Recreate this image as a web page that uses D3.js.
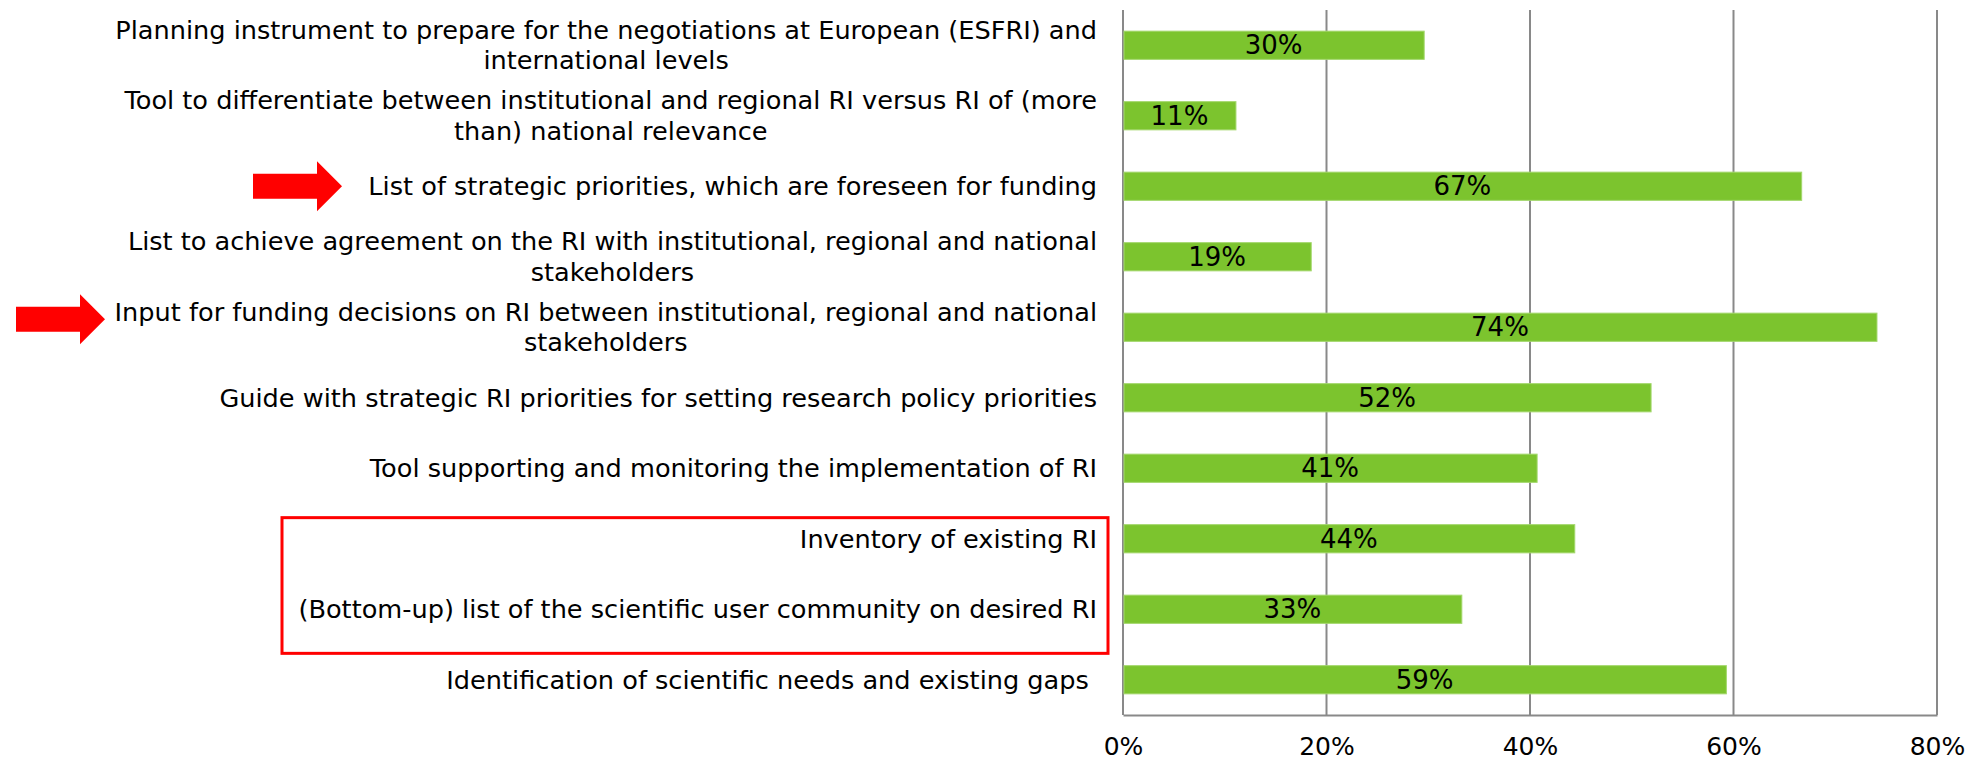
<!DOCTYPE html>
<html>
<head>
<meta charset="utf-8">
<script src="https://cdn.jsdelivr.net/npm/d3@7"></script>
<style>
  body { margin: 0; background: #fff; }
  svg { font-family: "DejaVu Sans", Verdana, sans-serif; }
</style>
</head>
<body>
<div id="chart"></div>
<script>
// categories, top to bottom (wrapped the way the original shows them)
const labelLines = [
  ["Planning instrument to prepare for the negotiations at European (ESFRI) and", "international levels"],
  ["Tool to differentiate between institutional and regional RI versus RI of (more", "than) national relevance"],
  ["List of strategic priorities, which are foreseen for funding"],
  ["List to achieve agreement on the RI with institutional, regional and national", "stakeholders"],
  ["Input for funding decisions on RI between institutional, regional and national", "stakeholders"],
  ["Guide with strategic RI priorities for setting research policy priorities"],
  ["Tool supporting and monitoring the implementation of RI"],
  ["Inventory of existing RI"],
  ["(Bottom-up) list of the scientific user community on desired RI"],
  ["Identification of scientific needs and existing gaps "]
];
const values = [0.296, 0.111, 0.667, 0.185, 0.741, 0.519, 0.407, 0.444, 0.333, 0.593];
const barLabels = ["30%", "11%", "67%", "19%", "74%", "52%", "41%", "44%", "33%", "59%"];
const xTicks = [0, 0.2, 0.4, 0.6, 0.8];
const tickLabels = ["0%", "20%", "40%", "60%", "80%"];
const arrowRows = [2, 4];
const boxedRows = [7, 8];

const W = 1982, H = 761;
const plot = { left: 1123, right: 1937, top: 10, bottom: 715 };

const svg = d3.select("#chart").append("svg")
  .attr("width", W)
  .attr("height", H);

const x = d3.scaleLinear().domain([0, 0.8]).range([plot.left, plot.right]);
const y = d3.scaleBand()
  .domain(d3.range(labelLines.length))
  .range([plot.top, plot.bottom])
  .paddingInner(0.6)
  .paddingOuter(0.3);

const gridColor = "#898989";

// vertical gridlines
svg.append("g")
  .selectAll("line")
  .data(xTicks)
  .join("line")
  .attr("x1", d => x(d)).attr("x2", d => x(d))
  .attr("y1", plot.top).attr("y2", plot.bottom)
  .attr("stroke", gridColor)
  .attr("stroke-width", 2);

// bottom axis
const xAxis = svg.append("g")
  .attr("transform", `translate(0, ${plot.bottom})`)
  .call(d3.axisBottom(x).tickValues(xTicks).tickSize(0).tickPadding(22)
    .tickFormat((d, i) => tickLabels[i]));
xAxis.select(".domain").attr("stroke", gridColor).attr("stroke-width", 2);
xAxis.selectAll("text")
  .attr("font-size", 25)
  .attr("font-family", "DejaVu Sans, Verdana, sans-serif")
  .attr("fill", "#000");

// bars
svg.append("g")
  .selectAll("rect")
  .data(values)
  .join("rect")
  .attr("x", x(0) + 1)
  .attr("y", (d, i) => y(i))
  .attr("width", d => x(d) - x(0) - 1)
  .attr("height", y.bandwidth())
  .attr("fill", "#7cc42e")
  .attr("stroke", "#a3d86c")
  .attr("stroke-width", 1);

// value labels centred in bars
svg.append("g")
  .selectAll("text")
  .data(values)
  .join("text")
  .attr("x", d => (x(0) + x(d)) / 2)
  .attr("y", (d, i) => y(i) + y.bandwidth() / 2)
  .attr("dy", "0.35em")
  .attr("text-anchor", "middle")
  .attr("font-size", 26)
  .attr("fill", "#000")
  .text((d, i) => barLabels[i]);

// category labels: lines centred on each other, block right-aligned
const labelRight = x(0) - 26;
const lineH = 30.5;
const labels = svg.append("g")
  .selectAll("g")
  .data(labelLines)
  .join("g");

labels.each(function(lines, i) {
  const g = d3.select(this);
  const cy = y(i) + y.bandwidth() / 2;
  const t = g.selectAll("text")
    .data(lines)
    .join("text")
    .attr("x", 0)
    .attr("y", (d, j) => cy + (j - (lines.length - 1) / 2) * lineH)
    .attr("dy", "0.35em")
    .attr("text-anchor", "middle")
    .attr("font-size", 25.6)
    .attr("fill", "#000")
    .style("white-space", "pre")
    .text(d => d);
  const maxW = d3.max(t.nodes(), n => n.getComputedTextLength());
  g.attr("transform", `translate(${labelRight - maxW / 2}, 0)`);
});

// red arrows
const arrowTips = [{ row: arrowRows[0], tipX: 342, dy: 0 }, { row: arrowRows[1], tipX: 105, dy: -8 }];
svg.append("g")
  .selectAll("path")
  .data(arrowTips)
  .join("path")
  .attr("d", a => {
    const ty = y(a.row) + y.bandwidth() / 2 + a.dy;
    const hb = a.tipX - 25;
    const sl = a.tipX - 89;
    return `M${sl},${ty - 12.5}L${hb},${ty - 12.5}L${hb},${ty - 25}L${a.tipX},${ty}` +
      `L${hb},${ty + 25}L${hb},${ty + 12.5}L${sl},${ty + 12.5}Z`;
  })
  .attr("fill", "#ff0000");

// red box around the two bottom-up rows
const boxTop = y(boxedRows[0]) - 7;
const boxBottom = y(boxedRows[1]) + y.bandwidth() + 30;
svg.append("rect")
  .attr("x", 282)
  .attr("y", boxTop)
  .attr("width", x(0) - 15 - 282)
  .attr("height", boxBottom - boxTop)
  .attr("fill", "none")
  .attr("stroke", "#ff0000")
  .attr("stroke-width", 3);
</script>
</body>
</html>
